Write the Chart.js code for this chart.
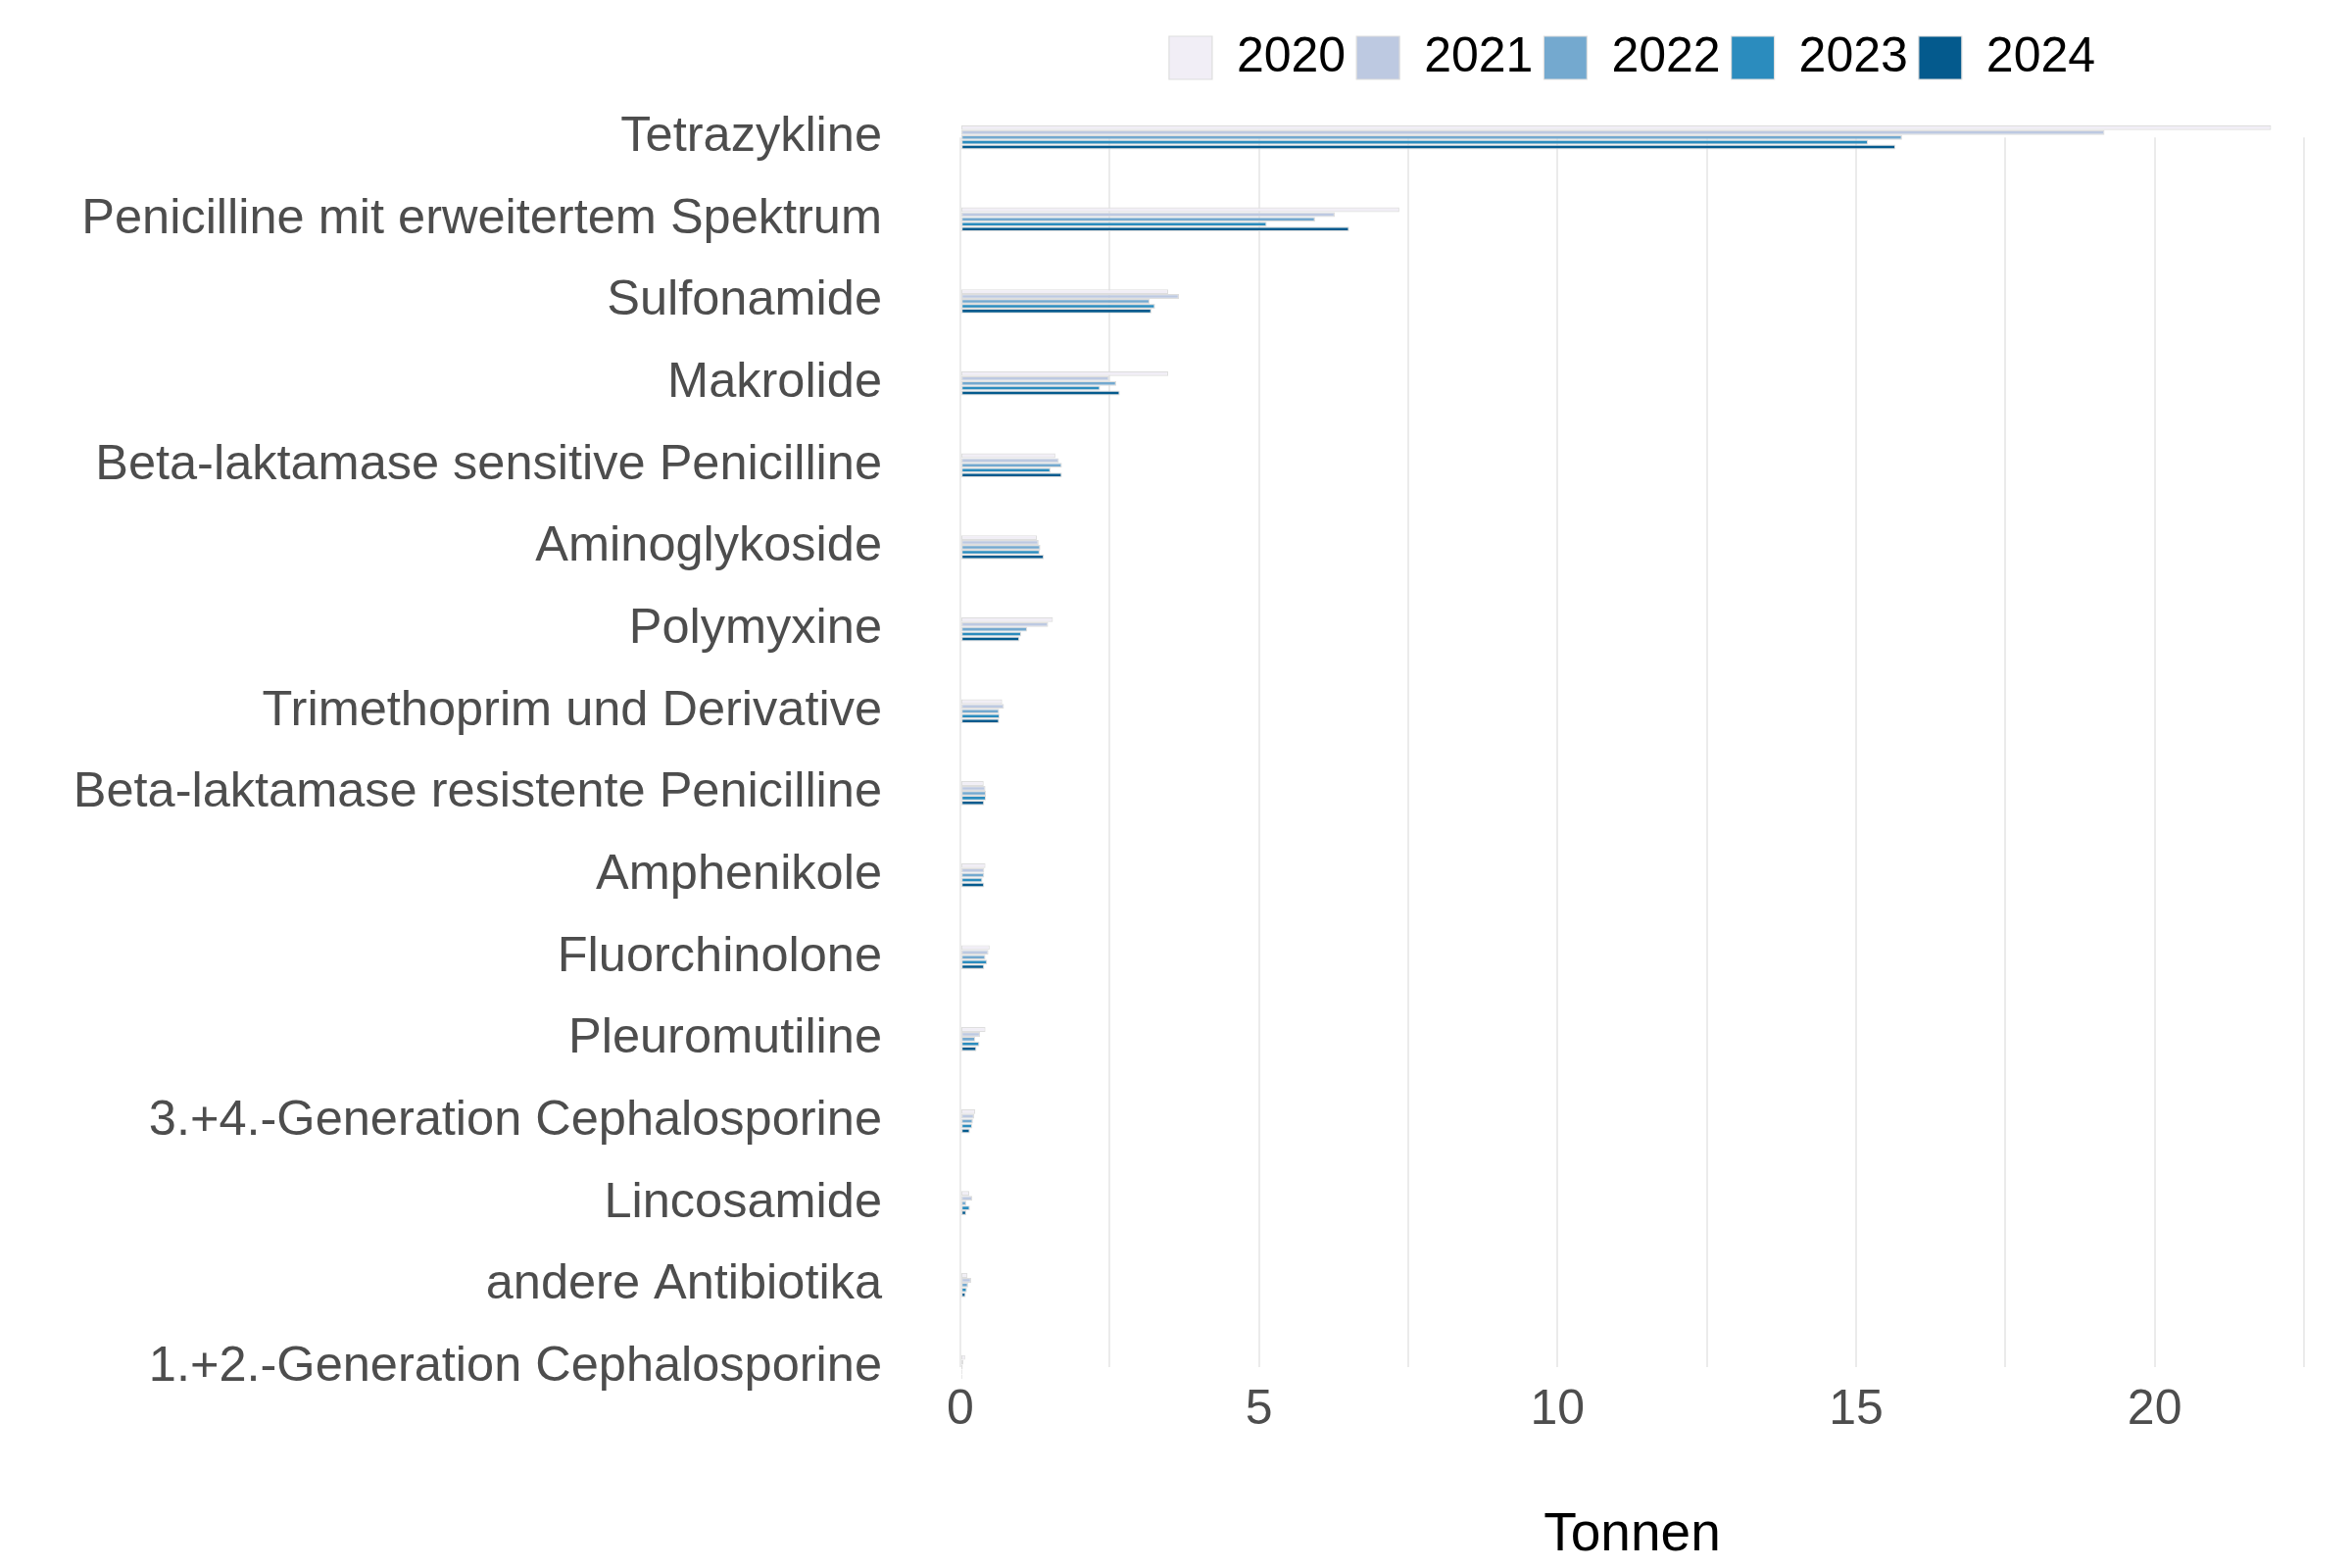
<!DOCTYPE html>
<html>
<head>
<meta charset="utf-8">
<script src="https://cdn.jsdelivr.net/npm/chart.js@4.4.1/dist/chart.umd.min.js"></script>
<style>
  html, body { margin: 0; padding: 0; background: #fff; }
  #wrap { width: 2400px; height: 1600px; }
</style>
</head>
<body>
<div id="wrap"><canvas id="chart" width="2400" height="1600"></canvas></div>
<script>
// Wirkstoffklassen, von oben nach unten
const categories = [
  "Tetrazykline",
  "Penicilline mit erweitertem Spektrum",
  "Sulfonamide",
  "Makrolide",
  "Beta-laktamase sensitive Penicilline",
  "Aminoglykoside",
  "Polymyxine",
  "Trimethoprim und Derivative",
  "Beta-laktamase resistente Penicilline",
  "Amphenikole",
  "Fluorchinolone",
  "Pleuromutiline",
  "3.+4.-Generation Cephalosporine",
  "Lincosamide",
  "andere Antibiotika",
  "1.+2.-Generation Cephalosporine"
];
const years = ["2020", "2021", "2022", "2023", "2024"];

// Tonnen je Jahr
const t2020 = [21.95, 7.35, 3.48, 3.48, 1.59, 1.28, 1.55, 0.70, 0.39, 0.42, 0.49, 0.42, 0.25, 0.15, 0.12, 0.08];
const t2021 = [19.16, 6.27, 3.66, 2.49, 1.65, 1.31, 1.47, 0.73, 0.42, 0.40, 0.47, 0.33, 0.23, 0.20, 0.18, 0.05];
const t2022 = [15.77, 5.94, 3.17, 2.61, 1.70, 1.34, 1.12, 0.65, 0.43, 0.40, 0.42, 0.25, 0.21, 0.10, 0.13, 0.04];
const t2023 = [15.20, 5.13, 3.26, 2.34, 1.51, 1.33, 1.02, 0.66, 0.43, 0.37, 0.45, 0.32, 0.20, 0.16, 0.11, 0.03];
const t2024 = [15.66, 6.51, 3.20, 2.67, 1.70, 1.40, 0.99, 0.65, 0.40, 0.40, 0.40, 0.27, 0.16, 0.10, 0.09, 0.03];

const xTicks = [0, 5, 10, 15, 20];
const colors = ["#f1eef6", "#bdc9e1", "#74a9cf", "#2b8cbe", "#045a8d"];

const series = [t2020, t2021, t2022, t2023, t2024];
const FONT = "'Liberation Sans', Arial, sans-serif";
Chart.defaults.font.family = FONT;

new Chart(document.getElementById("chart"), {
  type: "bar",
  data: {
    labels: categories,
    datasets: series.map((d, i) => ({
      label: years[i],
      data: d,
      backgroundColor: colors[i],
      borderColor: "#dedede",
      borderWidth: 1.2,
      borderSkipped: false,
      categoryPercentage: 0.295,
      barPercentage: 1.0,
      clip: false
    }))
  },
  options: {
    indexAxis: "y",
    responsive: false,
    animation: false,
    devicePixelRatio: 1,
    layout: { padding: { left: 0, right: 49, top: 23, bottom: 0 } },
    plugins: {
      legend: {
        position: "top",
        fullSize: false,
        weight: 3000,
        labels: {
          boxWidth: 44, boxHeight: 44, padding: 11,
          color: "#000", font: { size: 50 }
        }
      },
      // leerer Abstand zwischen Legende und Plotfläche
      subtitle: {
        display: true, text: "", font: { size: 1 },
        padding: { top: 0, bottom: 45 }
      },
      tooltip: { enabled: false }
    },
    scales: {
      y: {
        offset: false,
        grid: { display: false, drawTicks: false },
        border: { display: false },
        ticks: { autoSkip: false, padding: 80, color: "#4d4d4d", font: { size: 50.5 } },
        afterFit: s => { s.width = 980; }
      },
      x: {
        min: 0, max: 22.5,
        grid: { color: "#ebebeb", lineWidth: 2, drawTicks: false },
        border: { display: false },
        ticks: {
          stepSize: 2.5, autoSkip: false, maxRotation: 0, padding: 14,
          color: "#4d4d4d", font: { size: 50 },
          callback: v => xTicks.includes(v) ? String(v) : ""
        },
        title: {
          display: true, text: "Tonnen", color: "#000",
          font: { size: 55 }, padding: { top: 0, bottom: 0 }
        },
        afterFit: s => { s.height = 205; }
      }
    }
  }
});
</script>
</body>
</html>
